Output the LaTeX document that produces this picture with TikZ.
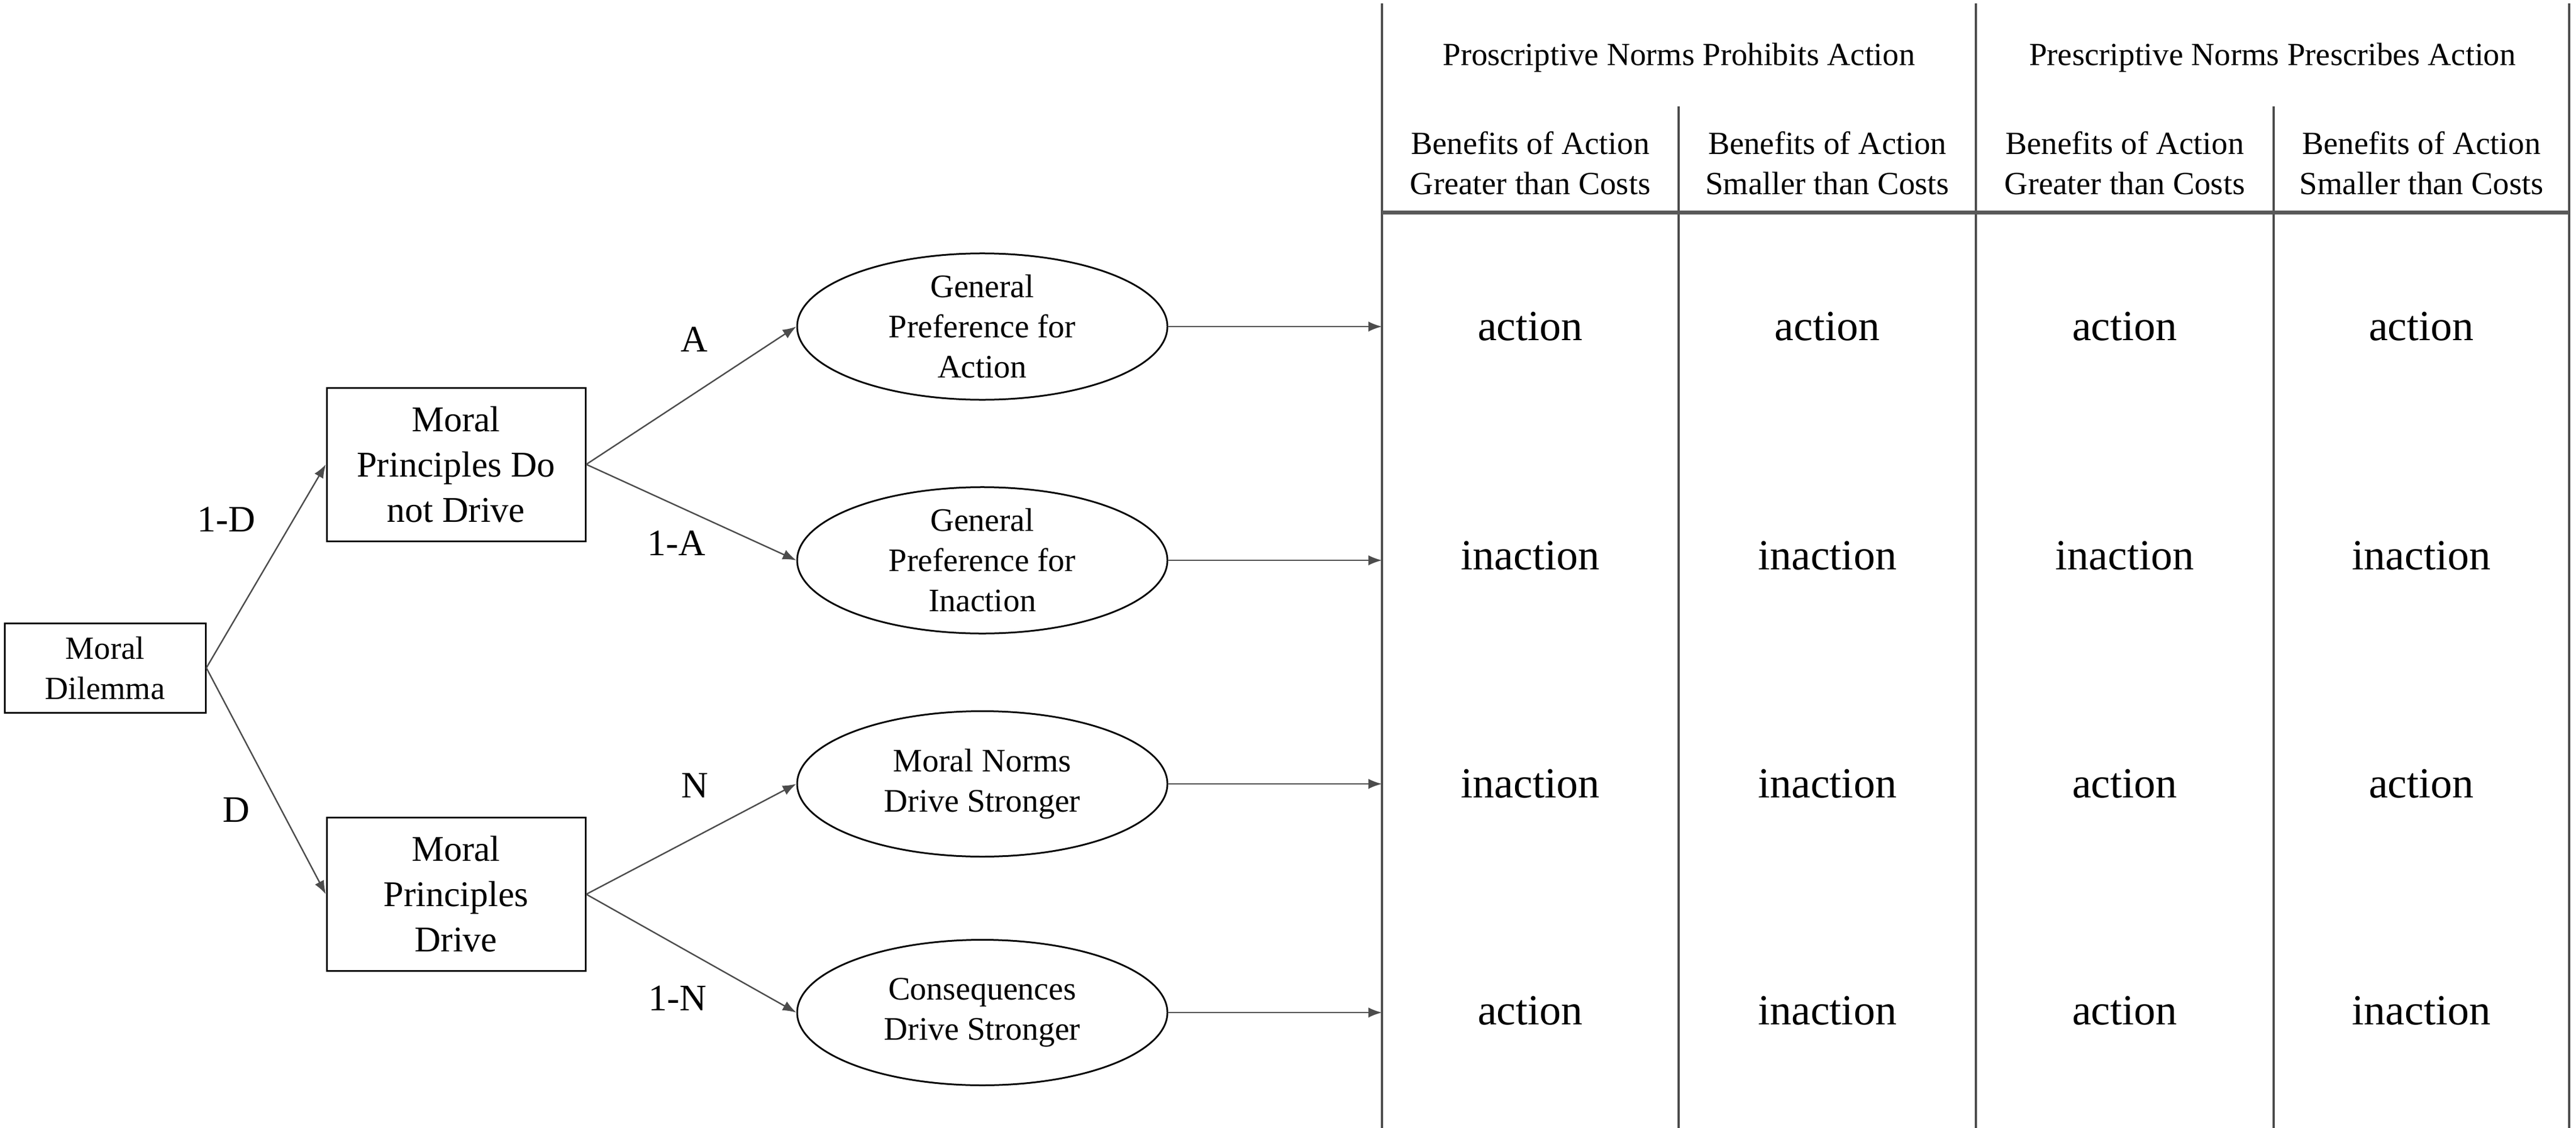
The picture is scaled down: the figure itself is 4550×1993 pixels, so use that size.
\documentclass[tikz,border=0pt]{standalone}
\usepackage{fontspec}
\setmainfont{Liberation Serif}
\usetikzlibrary{arrows.meta,shapes.geometric}
\begin{document}
\begin{tikzpicture}[x=1pt,y=-1pt,
  box/.style={draw=black,line width=3pt,align=center,inner sep=0pt},
  oval/.style={ellipse,draw=black,line width=3pt,minimum width=654pt,minimum height=257pt,inner sep=0pt,align=center,font=\fontsize{58}{71}\selectfont},
  arr/.style={draw=black!70,line width=2.5pt,-{Latex[length=24pt,width=18pt]}},
  lbl/.style={font=\fontsize{66}{70}\selectfont,inner sep=0pt},
  cell/.style={font=\fontsize{76}{80}\selectfont,anchor=base,inner sep=0pt},
  hd/.style={font=\fontsize{57}{71}\selectfont,align=center,inner sep=0pt},
  tline/.style={draw=black!70,line width=4pt},
]
\useasboundingbox (0,0) rectangle (4550,1993);
\fill[white] (0,0) rectangle (4550,1993);

% tree
\node[box,minimum width=355pt,minimum height=158pt,font=\fontsize{57}{71}\selectfont] (dil) at (185.5,1180) {Moral\\Dilemma};
\node[box,minimum width=457pt,minimum height=271pt,font=\fontsize{64}{80}\selectfont] (dno) at (805.5,820.5) {Moral\\Principles Do\\not Drive};
\node[box,minimum width=457pt,minimum height=271pt,font=\fontsize{64}{80}\selectfont] (dr) at (805.5,1580) {Moral\\Principles\\Drive};

\node[oval] (e1) at (1735,577) {General\\Preference for\\Action};
\node[oval] (e2) at (1735,990) {General\\Preference for\\Inaction};
\node[oval] (e3) at (1735,1385) {Moral Norms\\Drive Stronger};
\node[oval] (e4) at (1735,1789) {Consequences\\Drive Stronger};

\draw[arr] (dil.east) -- (dno.west);
\draw[arr] (dil.east) -- (dr.west);
\draw[arr] (dno.east) -- (e1.west);
\draw[arr] (dno.east) -- (e2.west);
\draw[arr] (dr.east) -- (e3.west);
\draw[arr] (dr.east) -- (e4.west);

\node[lbl] (l1d) at (400,918) {1-D};
\node[lbl] (ld) at (417,1431) {D};
\node[lbl] (la) at (1226,600) {A};
\node[lbl] (l1a) at (1195,960) {1-A};
\node[lbl] (ln) at (1227,1388) {N};
\node[lbl] (l1n) at (1197,1764) {1-N};

% table
\coordinate (tL) at (2441,0);
\draw[tline] (2441,6) -- (2441,1993);
\draw[tline] (3490,6) -- (3490,1993);
\draw[tline] (4538,6) -- (4538,1993);
\draw[tline] (2965,188) -- (2965,1993);
\draw[tline] (4016,188) -- (4016,1993);
\draw[line width=7pt,draw=black!65] (2441,375) -- (4538,375);

\draw[arr] (e1.east) -- (e1.east -| tL);
\draw[arr] (e2.east) -- (e2.east -| tL);
\draw[arr] (e3.east) -- (e3.east -| tL);
\draw[arr] (e4.east) -- (e4.east -| tL);

\node[hd,anchor=base] (h1) at (2965.5,116) {Proscriptive Norms Prohibits Action};
\node[hd,anchor=base] (h2) at (4014,116) {Prescriptive Norms Prescribes Action};

\node[hd] (s1) at (2703,294) {Benefits of Action\strut\\Greater than Costs\strut};
\node[hd] (s2) at (3227.5,294) {Benefits of Action\strut\\Smaller than Costs\strut};
\node[hd] (s3) at (3753,294) {Benefits of Action\strut\\Greater than Costs\strut};
\node[hd] (s4) at (4277,294) {Benefits of Action\strut\\Smaller than Costs\strut};

\node[cell] (c11) at (2703,601) {action};
\node[cell] (c12) at (3227.5,601) {action};
\node[cell] (c13) at (3753,601) {action};
\node[cell] (c14) at (4277,601) {action};
\node[cell] (c21) at (2703,1006) {inaction};
\node[cell] (c22) at (3227.5,1006) {inaction};
\node[cell] (c23) at (3753,1006) {inaction};
\node[cell] (c24) at (4277,1006) {inaction};
\node[cell] (c31) at (2703,1409) {inaction};
\node[cell] (c32) at (3227.5,1409) {inaction};
\node[cell] (c33) at (3753,1409) {action};
\node[cell] (c34) at (4277,1409) {action};
\node[cell] (c41) at (2703,1810) {action};
\node[cell] (c42) at (3227.5,1810) {inaction};
\node[cell] (c43) at (3753,1810) {action};
\node[cell] (c44) at (4277,1810) {inaction};
\end{tikzpicture}
\end{document}
